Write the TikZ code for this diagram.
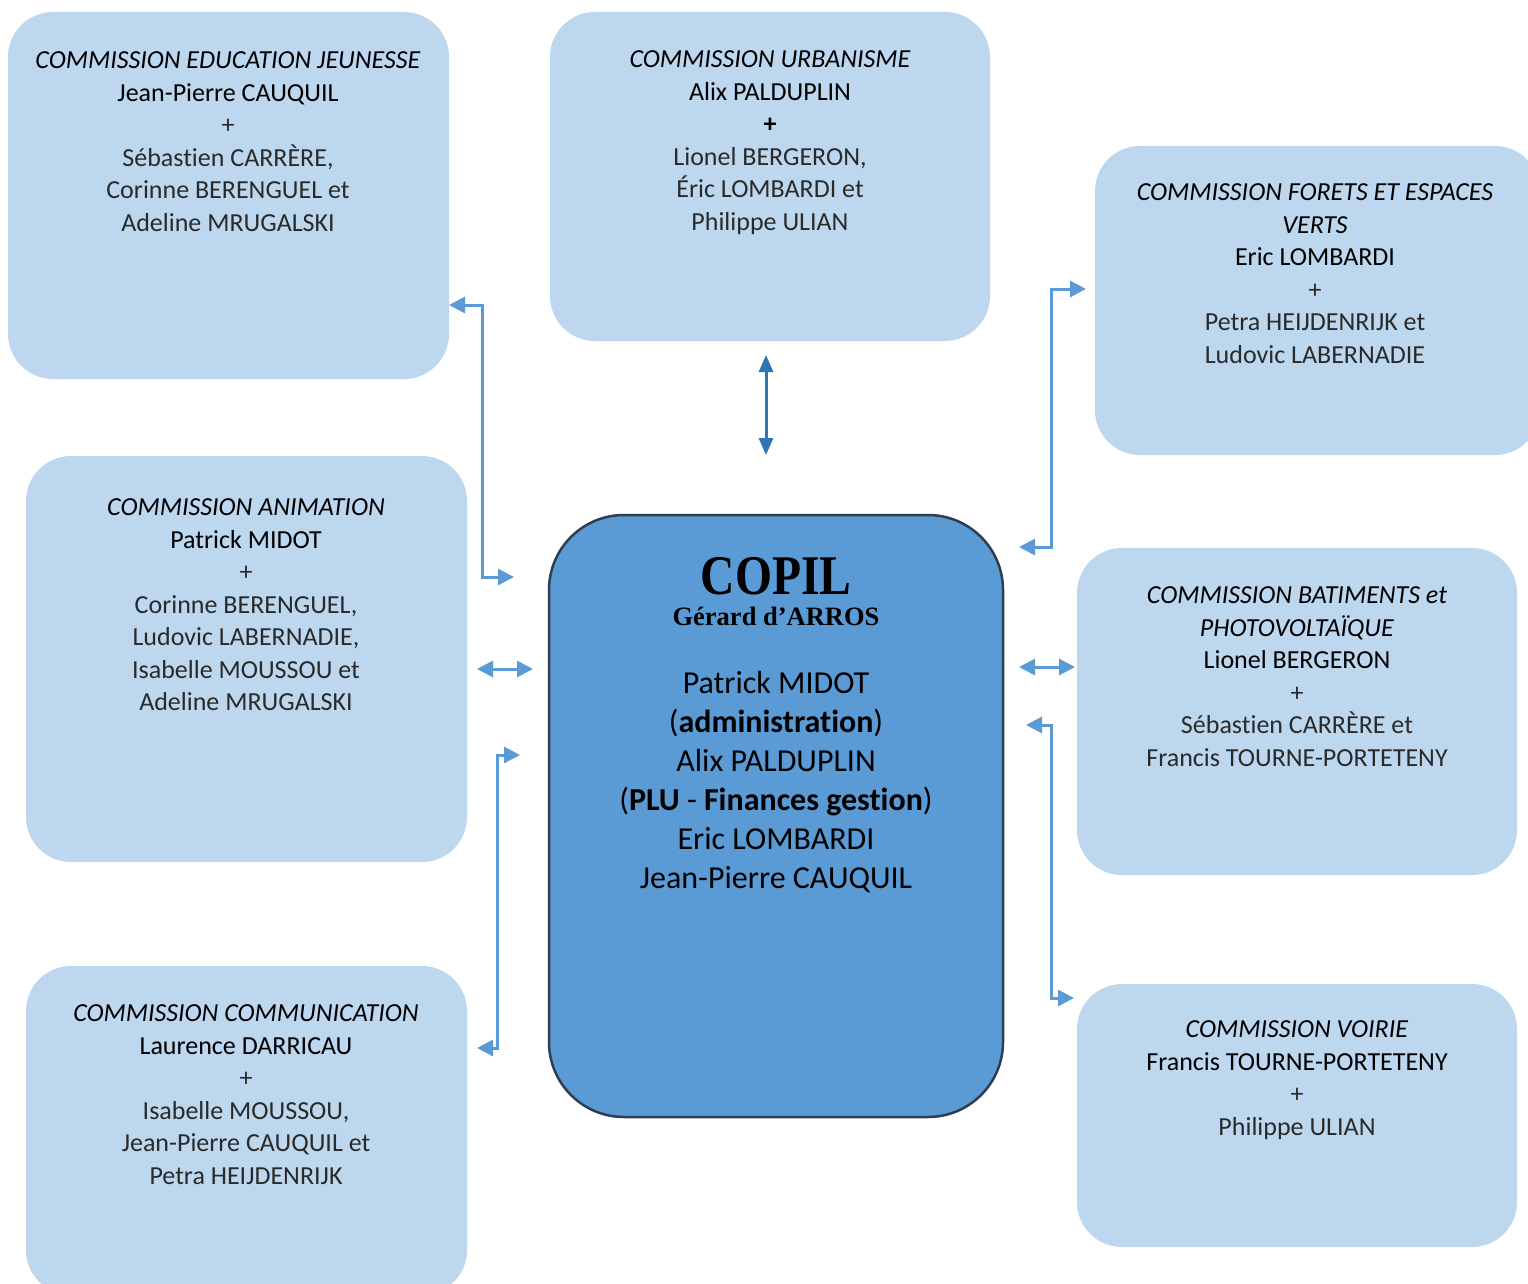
\documentclass[tikz,border=0pt]{standalone}
\usepackage{fontspec}
\setmainfont{Carlito}[Ligatures=NoCommon]
\newfontfamily\tnr{Liberation Serif}
\usetikzlibrary{arrows.meta}
\definecolor{lightbox}{HTML}{BDD7EE}
\definecolor{copilfill}{HTML}{5B9BD5}
\definecolor{copilborder}{HTML}{2F3E50}
\definecolor{arrowblue}{HTML}{5B9BD5}
\definecolor{arrowdark}{HTML}{2E75B6}
\definecolor{membergray}{HTML}{2A2A2A}
\tikzset{
  combox/.style={fill=lightbox, draw=none, rounded corners=45pt, inner sep=0pt},
  copilbox/.style={fill=copilfill, draw=copilborder, line width=2.5pt, rounded corners=75pt, inner sep=0pt},
  blocktext/.style={anchor=north, align=center, inner sep=0pt, font=\fontsize{26}{32.5}\selectfont},
  centertext/.style={anchor=north, align=center, inner sep=0pt, font=\fontsize{32}{39}\selectfont},
  conn/.style={draw=arrowblue, line width=3pt, {Triangle[length=16pt,width=16pt]}-{Triangle[length=16pt,width=16pt]}},
  conndark/.style={draw=arrowdark, line width=3pt, {Triangle[length=17pt,width=14pt]}-{Triangle[length=17pt,width=14pt]}},
}
\newcommand{\mem}[1]{\textcolor{membergray}{#1}}
\begin{document}
\begin{tikzpicture}[x=1pt,y=-1pt]
\useasboundingbox (0,0) rectangle (1528,1284);
\fill[white] (0,0) rectangle (1528,1284);

% boxes
\node[combox, minimum width=441pt, minimum height=367pt] (edu) at (228.5,195.5) {};
\node[combox, minimum width=440pt, minimum height=329pt] (urb) at (770,176.5) {};
\node[combox, minimum width=445pt, minimum height=309pt] (for) at (1317.5,300.5) {};
\node[combox, minimum width=441pt, minimum height=406pt] (ani) at (246.5,659) {};
\node[combox, minimum width=441pt, minimum height=329pt] (com) at (246.5,1130.5) {};
\node[combox, minimum width=440pt, minimum height=327pt] (bat) at (1297,711.5) {};
\node[combox, minimum width=440pt, minimum height=263pt] (voi) at (1297,1115.5) {};
\node[copilbox, minimum width=454pt, minimum height=602pt] (copil) at (776,816) {};

% texts
\node[blocktext] (edut) at (228,51.8) {\textit{COMMISSION EDUCATION JEUNESSE}\\Jean-Pierre CAUQUIL\\\mem{+}\\\mem{Sébastien CARRÈRE,}\\\mem{Corinne BERENGUEL et}\\\mem{Adeline MRUGALSKI}};
\node[blocktext] (urbt) at (770,50.8) {\textit{COMMISSION URBANISME}\\Alix PALDUPLIN\\\textbf{+}\\\mem{Lionel BERGERON,}\\\mem{Éric LOMBARDI et}\\\mem{Philippe ULIAN}};
\node[blocktext] (fort) at (1315,183.8) {\textit{COMMISSION FORETS ET ESPACES}\\\textit{VERTS}\\Eric LOMBARDI\\\mem{+}\\\mem{Petra HEIJDENRIJK et}\\\mem{Ludovic LABERNADIE}};
\node[blocktext] (anit) at (246,498.8) {\textit{COMMISSION ANIMATION}\\Patrick MIDOT\\\mem{+}\\\mem{Corinne BERENGUEL,}\\\mem{Ludovic LABERNADIE,}\\\mem{Isabelle MOUSSOU et}\\\mem{Adeline MRUGALSKI}};
\node[blocktext] (comt) at (246,1004.8) {\textit{COMMISSION COMMUNICATION}\\Laurence DARRICAU\\\mem{+}\\\mem{Isabelle MOUSSOU,}\\\mem{Jean-Pierre CAUQUIL et}\\\mem{Petra HEIJDENRIJK}};
\node[blocktext] (batt) at (1297,586.8) {\textit{COMMISSION BATIMENTS et}\\\textit{PHOTOVOLTAÏQUE}\\Lionel BERGERON\\\mem{+}\\\mem{Sébastien CARRÈRE et}\\\mem{Francis TOURNE-PORTETENY}};
\node[blocktext] (voit) at (1297,1020.8) {\textit{COMMISSION VOIRIE}\\Francis TOURNE-PORTETENY\\\mem{+}\\\mem{Philippe ULIAN}};

\node[anchor=base, inner sep=0pt] (copilt) at (776,594) {\tnr\bfseries\fontsize{56}{60}\selectfont\scalebox{0.85}[1]{COPIL}};
\node[anchor=base, inner sep=0pt] (gerard) at (776,625) {\tnr\bfseries\fontsize{26.5}{30}\selectfont Gérard d’ARROS};
\node[centertext] (copilm) at (776,671) {Patrick MIDOT\\(\textbf{administration})\\Alix PALDUPLIN\\(\textbf{PLU} - \textbf{Finances gestion})\\Eric LOMBARDI\\Jean-Pierre CAUQUIL};

% connector end points
\coordinate (e1) at (449,305);
\coordinate (e2) at (514,577);
\coordinate (a1) at (477,669);
\coordinate (a2) at (533,669);
\coordinate (c1) at (520,755);
\coordinate (c2) at (477,1048);
\coordinate (u1) at (766,355);
\coordinate (u2) at (766,455);
\coordinate (f1) at (1086,289);
\coordinate (f2) at (1019,547);
\coordinate (b1) at (1019,667);
\coordinate (b2) at (1075,667);
\coordinate (v1) at (1026,725);
\coordinate (v2) at (1074,998);

% connectors
\draw[conn] (e1) -- ++(33,0) |- (e2);
\draw[conn] (a1) -- (a2);
\draw[conn] (c2) -- ++(20,0) |- (c1);
\draw[conndark] (u1) -- (u2);
\draw[conn] (f2) -- ++(32,0) |- (f1);
\draw[conn] (b1) -- (b2);
\draw[conn] (v1) -- ++(25,0) |- (v2);
\end{tikzpicture}
\end{document}
